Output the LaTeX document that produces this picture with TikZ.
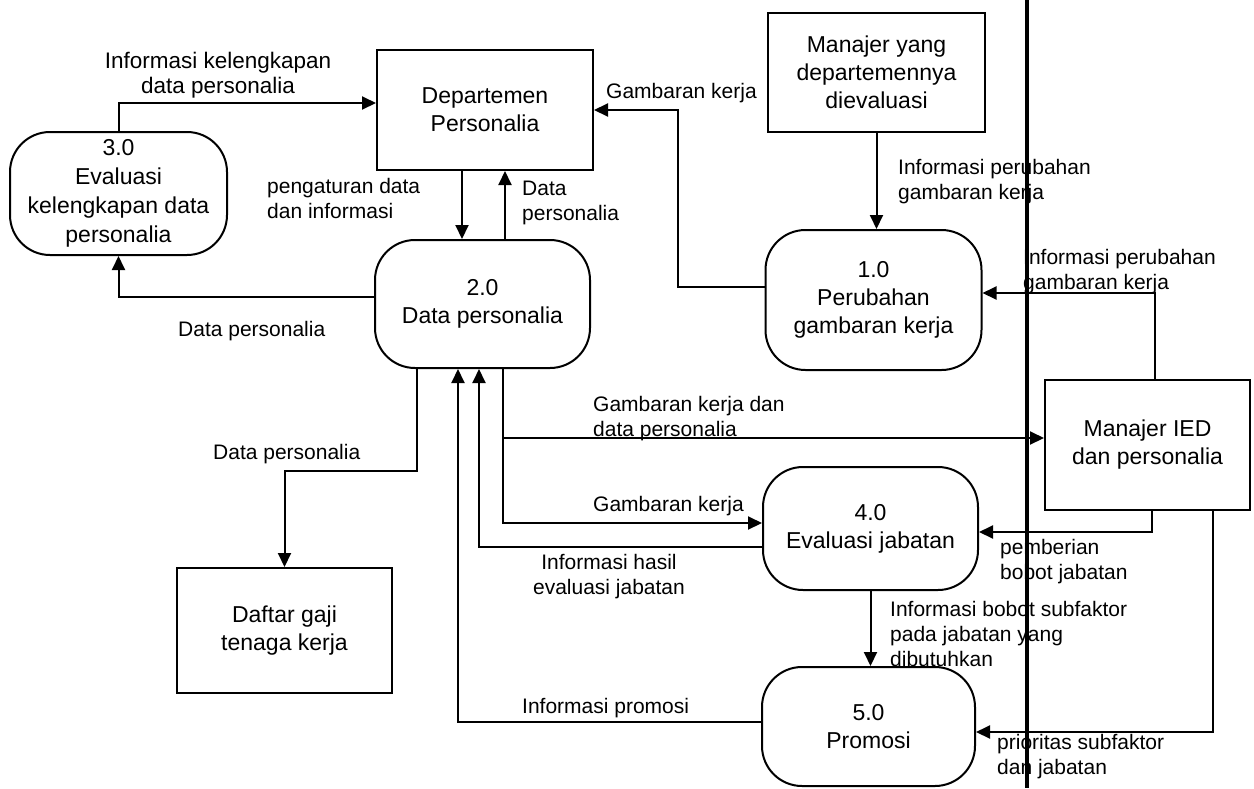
\documentclass[tikz,border=0pt]{standalone}
\usepackage{fontspec}
\setmainfont{Liberation Sans}
\usetikzlibrary{arrows.meta}
\begin{document}
\begin{tikzpicture}[x=1pt,y=-1pt,
  entity/.style={draw, line width=2pt, align=center, inner sep=0pt,
    font=\fontsize{23}{28}\selectfont},
  proc/.style={entity, rounded corners=40pt},
  arr/.style={draw, line width=2pt, -{Triangle[length=14pt,width=13pt]}},
  lbl/.style={inner sep=0pt, anchor=north west, align=left,
    font=\fontsize{21}{25}\selectfont},
  clbl/.style={lbl, anchor=north, align=center}]
\useasboundingbox (0,0) rectangle (1254,788);

% external entities
\node[entity, minimum width=216pt, minimum height=120pt] (dept) at (485,110) {Departemen\\Personalia};
\node[entity, minimum width=217pt, minimum height=119pt] (mgr) at (876.5,72.5) {Manajer yang\\departemennya\\dievaluasi};
\node[entity, minimum width=205pt, minimum height=130pt] (ied) at (1147.5,445) {Manajer IED\\dan personalia};
\node[entity, minimum width=215pt, minimum height=125pt] (daftar) at (284.5,630.5) {Daftar gaji\\tenaga kerja};

% processes
\node[proc, minimum width=217pt, minimum height=123pt, font=\fontsize{23}{29}\selectfont] (p3) at (118.5,193.5) {3.0\\Evaluasi\\kelengkapan data\\personalia};
\node[proc, minimum width=215pt, minimum height=128pt] (p2) at (482.5,304) {2.0\\Data personalia};
\node[proc, minimum width=216pt, minimum height=140pt] (p1) at (873.5,300) {1.0\\Perubahan\\gambaran kerja};
\node[proc, minimum width=215pt, minimum height=123pt] (p4) at (870.5,528.5) {4.0\\Evaluasi jabatan};
\node[proc, minimum width=213pt, minimum height=119pt] (p5) at (868.5,726.5) {5.0\\Promosi};

% data flows
\draw[arr] (p3.north) |- ([yshift=7pt]dept.west);
\draw[arr] ([xshift=-23pt]dept.south) coordinate (d1) -- (d1 |- p2.north);
\draw[arr] ([xshift=22.5pt]p2.north) coordinate (d2) -- (d2 |- dept.south);
\draw[arr] ([yshift=7pt]p2.west) -| (p3.south);
\draw[arr] ([yshift=13pt]p1.west) -| (678,110) -- (dept.east);
\draw[arr] (mgr.south) -- (mgr.south |- p1.north);
\draw[arr] ([xshift=7.5pt]ied.north) |- ([yshift=7pt]p1.east);
\draw[arr] ([xshift=20.5pt]p2.south) |- ([yshift=7pt]ied.west);
\draw[arr] ([xshift=20.5pt]p2.south) |- ([yshift=5.5pt]p4.west);
\draw[arr] ([yshift=-18.5pt]p4.west) -| ([xshift=-3.5pt]p2.south);
\draw[arr] ([xshift=4.5pt]ied.south) |- ([yshift=-3.5pt]p4.east);
\draw[arr] ([xshift=-65.5pt]p2.south) -- ++(0,102) -| (daftar.north);
\draw[arr] ([yshift=4.5pt]p5.west) -| ([xshift=-24.5pt]p2.south);
\draw[arr] (p4.south) -- (p4.south |- p5.north);
\draw[arr] ([xshift=65.5pt]ied.south) |- ([yshift=-5.5pt]p5.east);

% flow labels
\node[clbl, font=\fontsize{22.5}{25}\selectfont] (la) at (218,52) {Informasi kelengkapan\\data personalia};
\node[lbl] (lb) at (606,83) {Gambaran kerja};
\node[lbl] (lc) at (267,178) {pengaturan data\\dan informasi};
\node[lbl] (ld) at (522,181) {Data\\personalia};
\node[lbl] (le) at (898,159) {Informasi perubahan\\gambaran kerja};
\node[lbl] (lf) at (1023,249) {Informasi perubahan\\gambaran kerja};
\node[lbl] (lg) at (178,321) {Data personalia};
\node[lbl] (lh) at (213,444) {Data personalia};
\node[lbl] (li) at (593,396) {Gambaran kerja dan\\data personalia};
\node[lbl] (lj) at (593,496) {Gambaran kerja};
\node[clbl] (lk) at (609,554) {Informasi hasil\\evaluasi jabatan};
\node[lbl] (ll) at (522,698) {Informasi promosi};
\node[lbl] (lm) at (1000,539) {pemberian\\bobot jabatan};
\node[lbl] (ln) at (890,601) {Informasi bobot subfaktor\\pada jabatan yang\\dibutuhkan};
\node[lbl] (lo) at (997,734) {prioritas subfaktor\\dan jabatan};

% heavy vertical rule across the sheet
\draw[line width=4pt] (1027,0) -- (1027,788);
\end{tikzpicture}
\end{document}
